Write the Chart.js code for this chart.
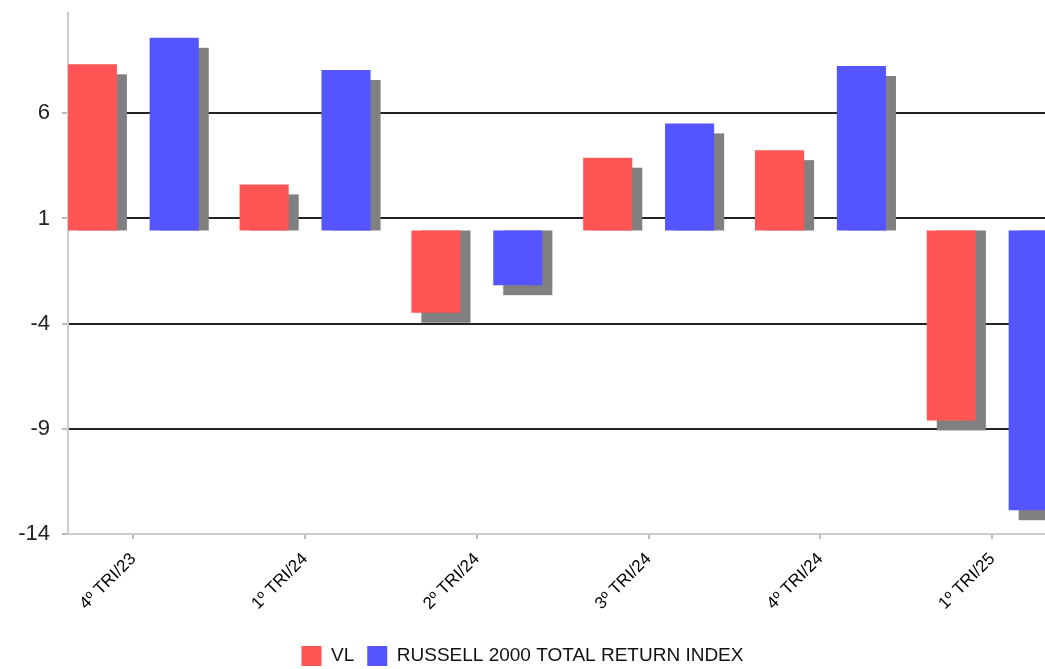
<!DOCTYPE html>
<html>
<head>
<meta charset="utf-8">
<script src="https://cdn.jsdelivr.net/npm/chart.js@4/dist/chart.umd.min.js"></script>
<style>
  body { margin: 0; background: #fff; }
</style>
</head>
<body>
<canvas id="myChart" width="1045" height="669"></canvas>
<script>
// datos
const categorias = ['4º TRI/23', '1º TRI/24', '2º TRI/24', '3º TRI/24', '4º TRI/24', '1º TRI/25']
const vl = [8.33, 2.62, -3.48, 3.89, 4.25, -8.60]
const russell = [9.59, 8.06, -2.17, 5.52, 8.25, -12.87]
const ticksY = [-14, -9, -4, 1, 6]
const baseBarras = 0.43

// sombra gris de las barras
const sombra = {
    id: 'sombra',
    beforeDatasetsDraw(chart) {
        const ctx = chart.ctx
        const area = chart.chartArea
        ctx.save()
        ctx.beginPath()
        ctx.rect(area.left, area.top, area.right - area.left, area.bottom - area.top)
        ctx.clip()
        ctx.fillStyle = '#808080'
        chart.data.datasets.forEach((ds, i) => {
            chart.getDatasetMeta(i).data.forEach(bar => {
                const p = bar.getProps(['x', 'y', 'base', 'width'], true)
                const left = p.x - p.width / 2 + 10
                let top, bottom
                if (p.y < p.base) { top = p.y + 10; bottom = p.base }
                else { top = p.base; bottom = p.y + 10 }
                ctx.fillRect(left, top, p.width, bottom - top)
            })
        })
        ctx.restore()
    }
}

Chart.defaults.font.family = "'Liberation Sans', Arial, sans-serif"
Chart.defaults.color = '#111'

var ctx = document.getElementById('myChart')
var myChart = new Chart(ctx, {
    type: 'bar',
    data: {
        datasets: [{
            label: 'VL',
            data: vl.map((v, i) => ({ x: i, y: v })),
            backgroundColor: '#FF5555',
            base: baseBarras
        }, {
            label: 'RUSSELL 2000 TOTAL RETURN INDEX',
            data: russell.map((v, i) => ({ x: i, y: v })),
            backgroundColor: '#5555FF',
            base: baseBarras
        }]
    },
    options: {
        responsive: false,
        animation: false,
        categoryPercentage: 0.953,
        barPercentage: 0.6,
        layout: { padding: { top: 13, left: 0, right: 0, bottom: -7 } },
        plugins: {
            tooltip: { enabled: false },
            legend: {
                position: 'bottom',
                labels: {
                    boxWidth: 20,
                    boxHeight: 20,
                    padding: 13,
                    font: { size: 19 },
                    color: '#111'
                }
            }
        },
        scales: {
            x: {
                type: 'linear',
                offset: false,
                min: -0.38,
                max: 5.307,
                afterBuildTicks: s => { s.ticks = categorias.map((c, i) => ({ value: i })) },
                afterFit: s => { s.height = 99; s.paddingLeft = 0; s.paddingRight = 0 },
                ticks: {
                    autoSkip: false,
                    minRotation: 45,
                    maxRotation: 45,
                    padding: 10,
                    font: { size: 17 },
                    color: '#000',
                    callback: v => categorias[v]
                },
                grid: { offset: false, drawOnChartArea: false, tickLength: 5, tickColor: '#bbb', lineWidth: 2 },
                border: { color: '#ccc', width: 2 }
            },
            y: {
                min: -14,
                max: 10.77,
                afterBuildTicks: s => { s.ticks = ticksY.map(v => ({ value: v })) },
                afterFit: s => { s.width = 68; s.paddingTop = 0; s.paddingBottom = 0 },
                ticks: { font: { size: 22 }, color: '#222', padding: 12 },
                grid: {
                    color: c => (c.tick && c.tick.value === -14) ? 'rgba(0,0,0,0)' : '#222',
                    lineWidth: 2,
                    tickLength: 6,
                    tickColor: '#bbb'
                },
                border: { color: '#ccc', width: 2 }
            }
        }
    },
    plugins: [sombra]
})
</script>
</body>
</html>
